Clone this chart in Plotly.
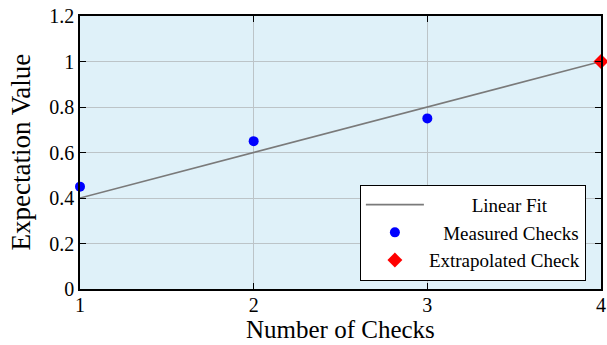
import plotly.graph_objects as go

# Measured expectation values
checks = [1, 2, 3]
expectation = [0.45, 0.65, 0.75]

# Linear fit line endpoints
fit_x = [1, 4]
fit_y = [0.4, 1.0]

# Extrapolated point
extra_x = [4]
extra_y = [1.0]

x_ticks = [1, 2, 3, 4]
y_ticks = [0, 0.2, 0.4, 0.6, 0.8, 1, 1.2]
y_labels = ["0", "0.2", "0.4", "0.6", "0.8", "1", "1.2"]

FONT = "Liberation Serif"
NB = "\u00a0"

fig = go.Figure()
fig.add_trace(go.Scatter(
    x=fit_x, y=fit_y, mode="lines", name=NB * 9 + "Linear Fit",
    line=dict(color="#7a7a7a", width=1.6), cliponaxis=False))
fig.add_trace(go.Scatter(
    x=checks, y=expectation, mode="markers", name=NB * 3 + "Measured Checks",
    marker=dict(color="#0000ff", size=10, symbol="circle"), cliponaxis=False))
fig.add_trace(go.Scatter(
    x=extra_x, y=extra_y, mode="markers", name="Extrapolated Check",
    marker=dict(color="#ff0000", size=11.5, symbol="diamond"), cliponaxis=False))

axis_common = dict(
    showline=True, linecolor="black", linewidth=1.6, mirror="ticks",
    ticks="inside", ticklen=6, tickcolor="black", tickwidth=1,
    showgrid=True, gridcolor="#bcc4c8", gridwidth=1, zeroline=False,
    tickfont=dict(family=FONT, size=20, color="black"), automargin=False,
)

fig.update_layout(
    width=607, height=345,
    margin=dict(l=80, r=6, t=16, b=56),
    paper_bgcolor="white", plot_bgcolor="#dff1f9",
    font=dict(family=FONT, color="black"),
    xaxis=dict(range=[1, 4], tickvals=x_ticks, ticklabelstandoff=-3, **axis_common),
    yaxis=dict(range=[0, 1.2], tickvals=y_ticks, ticktext=y_labels, **axis_common),
    legend=dict(x=0.971, y=0.03, xanchor="right", yanchor="bottom",
                bgcolor="white", bordercolor="black", borderwidth=1,
                font=dict(family=FONT, size=19), tracegroupgap=0,
                itemwidth=58),
    showlegend=True,
)

# Axis titles
fig.add_annotation(text="Number of Checks", xref="paper", yref="paper",
                   x=0.5, y=0, xanchor="center", yanchor="middle", yshift=-40,
                   showarrow=False, font=dict(family=FONT, size=25))
fig.add_annotation(text="Expectation Value", xref="paper", yref="paper",
                   x=0, y=0.5, xanchor="center", yanchor="middle", xshift=-60,
                   textangle=-90, showarrow=False, font=dict(family=FONT, size=27))

fig.write_html("out.html")
